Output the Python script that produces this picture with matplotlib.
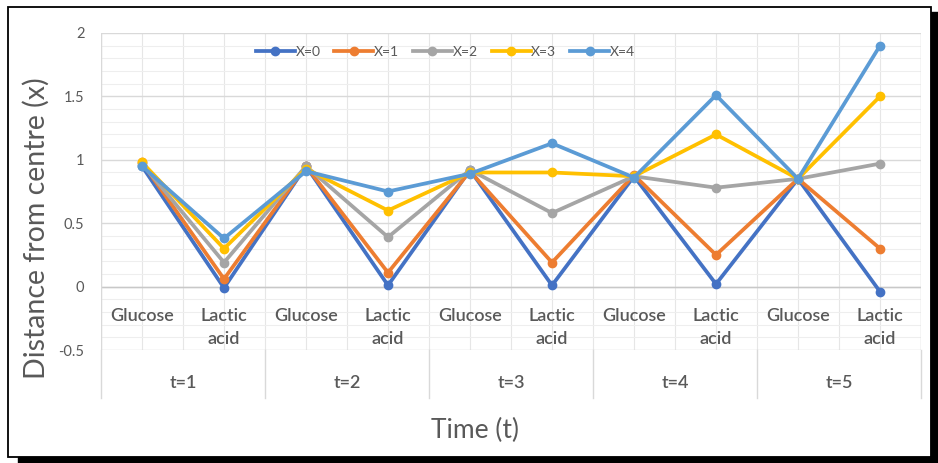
import numpy as np
import matplotlib
matplotlib.use('Agg')
import matplotlib.pyplot as plt
from matplotlib.ticker import MultipleLocator
from matplotlib.patches import Rectangle

# data
groups = ['t=1', 't=2', 't=3', 't=4', 't=5']
cats = ['Glucose', 'Lactic\nacid'] * 5
series_names = ['X=0', 'X=1', 'X=2', 'X=3', 'X=4']
x0 = [0.95, -0.01, 0.95, 0.01, 0.92, 0.01, 0.87, 0.02, 0.85, -0.04]
x1 = [0.98, 0.06, 0.95, 0.11, 0.91, 0.19, 0.88, 0.25, 0.85, 0.30]
x2 = [0.97, 0.19, 0.95, 0.39, 0.92, 0.58, 0.87, 0.78, 0.85, 0.97]
x3 = [0.98, 0.30, 0.93, 0.60, 0.90, 0.90, 0.87, 1.20, 0.85, 1.50]
x4 = [0.95, 0.38, 0.91, 0.75, 0.89, 1.13, 0.86, 1.51, 0.85, 1.90]
colors = ['#4472C4', '#ED7D31', '#A5A5A5', '#FFC000', '#5B9BD5']

plt.rcParams['font.family'] = ['Lato', 'DejaVu Sans']
grey = '#595959'

W, H = 938, 463
fig = plt.figure(figsize=(W / 100, H / 100), dpi=100)

# plot area in pixels: x 101..921, y 33..350
L, R, T, B = 101, 921, 33, 350
ax = fig.add_axes([L / W, 1 - B / H, (R - L) / W, (B - T) / H])

xs = np.arange(len(cats))
for name, vals, c in zip(series_names, [x0, x1, x2, x3, x4], colors):
    ax.plot(xs, vals, color=c, lw=2.7, marker='o', ms=6, label=name, zorder=3)

ax.set_xlim(-0.5, 9.5)
ax.set_ylim(-0.5, 2)
ax.set_xticks([])
ax.set_xticks([], minor=True)
ax.yaxis.set_minor_locator(MultipleLocator(0.1))
ax.grid(which='major', axis='y', color='#d9d9d9', lw=1)
ax.grid(which='minor', axis='y', color='#eeeeee', lw=0.8)
# vertical gridlines at category centres and boundaries
for v in np.arange(-0.5, 9.6, 0.5):
    ax.axvline(v, color='#e6e6e6', lw=0.8, zorder=0.5)
ax.axhline(0, color='#c8c8c8', lw=1, zorder=1)
ax.set_axisbelow(True)
for s in ax.spines.values():
    s.set_visible(False)
ax.tick_params(axis='both', which='both', length=0)
ax.tick_params(axis='y', labelsize=10.5, labelcolor=grey, pad=12)
ax.set_yticks([-0.5, 0, 0.5, 1, 1.5, 2])
ax.set_yticklabels(['-0.5', '0', '0.5', '1', '1.5', '2'])
for lab in ax.get_yticklabels():
    lab.set_horizontalalignment('right')

for i, c in enumerate(cats):
    ax.text(i, -0.165, c, ha='center', va='top', fontsize=13, color=grey,
            fontweight='semibold', linespacing=1.55)

ax.legend(loc='center', bbox_to_anchor=(0.42, 0.94), ncol=5, frameon=False,
          fontsize=10, labelcolor=grey, handlelength=2.8, handletextpad=0.05,
          columnspacing=1.0, borderaxespad=0)

# group label band below the plot, drawn with figure-pixel lines
gb = 398
for k in range(len(groups) + 1):
    xp = (L + k * (R - L) / 5) / W
    fig.add_artist(plt.Line2D([xp, xp], [1 - gb / H, 1 - B / H],
                              transform=fig.transFigure, color='#d9d9d9', lw=1))
for k, g in enumerate(groups):
    fig.text((L + (k + 0.5) * (R - L) / 5) / W, 1 - 383 / H, g, ha='center',
             va='center', fontsize=13, color=grey, fontweight='semibold')
ax.axvline(-0.5, color='#d9d9d9', lw=1)
ax.axvline(9.5, color='#d9d9d9', lw=1)

fig.text(36 / W, 1 - 228 / H, 'Distance from centre (x)', rotation=90,
         ha='center', va='center', fontsize=20.5, color=grey)
fig.text(475 / W, 1 - 430 / H, 'Time (t)', ha='center', va='center',
         fontsize=19, color=grey)

# frame with shadow
fig.patches.append(Rectangle((8 / W, 1 - 457 / H), (931 - 8) / W, (457 - 7) / H,
                             transform=fig.transFigure, fill=False,
                             ec='black', lw=1.3))
fig.patches.append(Rectangle((18 / W, 0), (W - 18) / W, 6 / H,
                             transform=fig.transFigure, color='black'))
fig.patches.append(Rectangle((931 / W, 0), 7 / W, 1 - 12 / H,
                             transform=fig.transFigure, color='black'))

fig.savefig('out.png', dpi=100)
